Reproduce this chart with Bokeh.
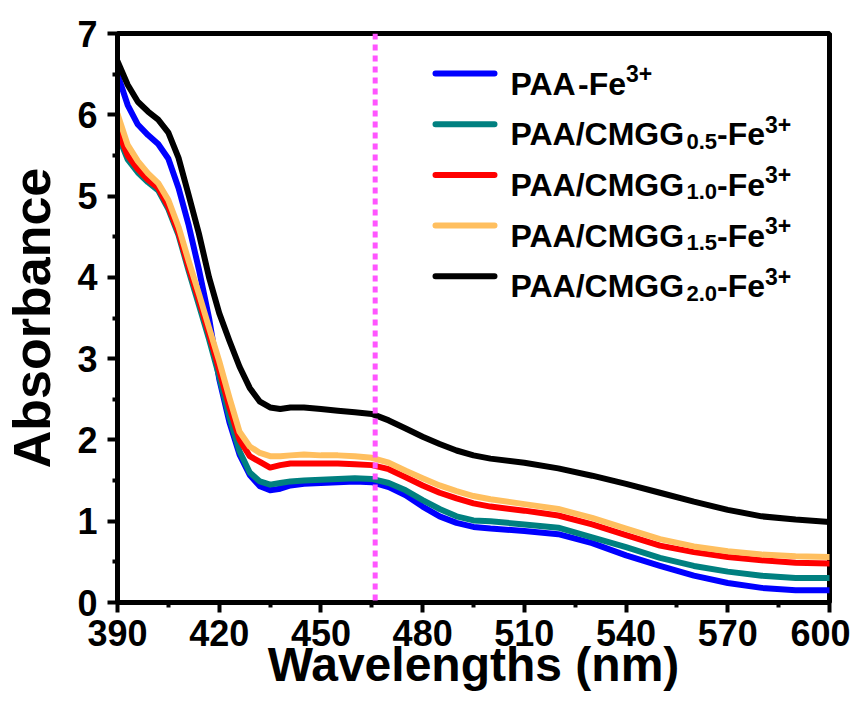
from bokeh.plotting import figure
from bokeh.models import Range1d, FixedTicker, Span, Label, BoxAnnotation
from bokeh.embed import file_html
from bokeh.resources import INLINE

# ---------------- data ----------------
wavelength = [390, 393, 396, 399, 402, 405, 408, 411, 414, 417, 420, 423, 426, 429, 432,
              435, 438, 441, 445, 450, 455, 460, 465, 470, 475, 480, 485, 490, 495, 500,
              510, 520, 530, 540, 550, 560, 570, 580, 590, 600]

paa_fe = [6.50, 6.12, 5.88, 5.75, 5.64, 5.46, 5.10, 4.64, 4.10, 3.50, 2.75, 2.22, 1.82, 1.57, 1.43,
          1.38, 1.40, 1.44, 1.46, 1.47, 1.48, 1.49, 1.48, 1.42, 1.32, 1.18, 1.06, 0.98, 0.93, 0.91,
          0.88, 0.84, 0.73, 0.58, 0.45, 0.33, 0.24, 0.18, 0.15, 0.15]

cmgg_05 = [5.76, 5.45, 5.29, 5.17, 5.07, 4.84, 4.52, 4.08, 3.66, 3.24, 2.78, 2.28, 1.86, 1.60, 1.49,
           1.45, 1.47, 1.49, 1.50, 1.51, 1.52, 1.53, 1.52, 1.47, 1.38, 1.26, 1.15, 1.06, 1.01, 1.00,
           0.96, 0.92, 0.80, 0.68, 0.55, 0.45, 0.38, 0.33, 0.30, 0.30]

cmgg_10 = [5.81, 5.50, 5.33, 5.20, 5.10, 4.87, 4.55, 4.12, 3.72, 3.30, 2.86, 2.40, 2.00, 1.80, 1.73,
           1.66, 1.69, 1.71, 1.71, 1.71, 1.71, 1.70, 1.69, 1.64, 1.54, 1.44, 1.35, 1.28, 1.22, 1.18,
           1.13, 1.07, 0.96, 0.83, 0.70, 0.62, 0.56, 0.52, 0.49, 0.48]

cmgg_15 = [6.01, 5.63, 5.43, 5.28, 5.16, 4.95, 4.62, 4.20, 3.80, 3.38, 2.97, 2.52, 2.10, 1.92, 1.84,
           1.80, 1.80, 1.81, 1.82, 1.81, 1.81, 1.80, 1.78, 1.72, 1.62, 1.53, 1.44, 1.37, 1.31, 1.27,
           1.21, 1.15, 1.04, 0.91, 0.78, 0.69, 0.63, 0.59, 0.57, 0.56]

cmgg_20 = [6.66, 6.37, 6.16, 6.04, 5.94, 5.78, 5.47, 5.01, 4.54, 4.00, 3.56, 3.22, 2.90, 2.64, 2.47,
           2.40, 2.38, 2.40, 2.40, 2.38, 2.36, 2.34, 2.32, 2.24, 2.14, 2.04, 1.95, 1.87, 1.81, 1.77,
           1.72, 1.65, 1.56, 1.46, 1.35, 1.24, 1.14, 1.06, 1.02, 0.99]

marker_wavelength = 466

x_ticks = [390, 420, 450, 480, 510, 540, 570, 600]
y_ticks = [0, 1, 2, 3, 4, 5, 6, 7]

# legend labels: (main, subscript, tail, superscript)
series_labels = [
    ("PAA", "", "-Fe", "3+"),
    ("PAA/CMGG", "0.5", "-Fe", "3+"),
    ("PAA/CMGG", "1.0", "-Fe", "3+"),
    ("PAA/CMGG", "1.5", "-Fe", "3+"),
    ("PAA/CMGG", "2.0", "-Fe", "3+"),
]
series_values = [paa_fe, cmgg_05, cmgg_10, cmgg_15, cmgg_20]
series_colors = ["#0000ff", "#008080", "#ff0000", "#ffbf5f", "#000000"]

# ---------------- figure ----------------
FONT = "Liberation Sans"

p = figure(width=850, height=700, x_range=Range1d(390, 600), y_range=Range1d(0, 7),
           output_backend="svg", toolbar_location=None,
           min_border_left=117, min_border_right=21, min_border_top=33, min_border_bottom=98)
p.grid.visible = False
p.outline_line_color = "black"
p.outline_line_width = 5
p.outline_line_alpha = 1.0
p.background_fill_color = "white"
p.border_fill_color = "white"

for ys, c in zip(series_values, series_colors):
    p.line(wavelength, ys, line_color=c, line_width=6, line_join="round", line_cap="round")

p.add_layout(Span(location=marker_wavelength, dimension="height", line_color="#ff55ff",
                  line_width=5, line_dash="6 5"))

x_minor = [(a + b) / 2 for a, b in zip(x_ticks[:-1], x_ticks[1:])]
y_minor = [(a + b) / 2 for a, b in zip(y_ticks[:-1], y_ticks[1:])]
p.xaxis.ticker = FixedTicker(ticks=x_ticks, minor_ticks=x_minor)
p.yaxis.ticker = FixedTicker(ticks=y_ticks, minor_ticks=y_minor)

for ax in (p.xaxis[0], p.yaxis[0]):
    ax.axis_line_width = 5
    ax.axis_line_color = "black"
    ax.major_tick_line_width = 4
    ax.minor_tick_line_width = 4
    ax.major_tick_out = 10
    ax.major_tick_in = 0
    ax.minor_tick_out = 5
    ax.minor_tick_in = 0
    ax.major_label_text_font = FONT
    ax.major_label_text_font_style = "bold"
    ax.major_label_text_color = "black"
    ax.axis_label_text_font = FONT
    ax.axis_label_text_font_style = "bold"
    ax.axis_label_text_color = "black"

p.xaxis.axis_label = "Wavelengths (nm)"
p.xaxis.major_label_text_font_size = "36px"
p.xaxis.axis_label_text_font_size = "48px"
p.xaxis.major_label_standoff = 7
p.xaxis.axis_label_standoff = -11

p.yaxis.axis_label = "Absorbance"
p.yaxis.major_label_text_font_size = "36px"
p.yaxis.axis_label_text_font_size = "52px"
p.yaxis.major_label_standoff = 10
p.yaxis.axis_label_standoff = 13

# ---------------- legend (hand-built for sub/superscripts) ----------------
CHAR_W = {"P": 667, "A": 722, "-": 333, "F": 611, "e": 556, "/": 278, "C": 722,
          "M": 833, "G": 778, ".": 278, "+": 584}
for d in "0123456789":
    CHAR_W[d] = 556


def text_w(s, size):
    return sum(CHAR_W.get(ch, 556) for ch in s) * size / 1000.0


MAIN = 32
SUB = 22
SUP = 23
frame_h_px = 569
row0 = frame_h_px - 40
row_gap = 50.7
line_left, line_right = 315, 380
text_left = 393

for i, ((main, sub, tail, sup), c) in enumerate(zip(series_labels, series_colors)):
    yc = row0 - i * row_gap
    p.add_layout(BoxAnnotation(left=line_left, right=line_right, bottom=yc - 3, top=yc + 3,
                               left_units="screen", right_units="screen",
                               bottom_units="screen", top_units="screen",
                               fill_color=c, fill_alpha=1.0, line_color=None, border_radius=3))
    base = yc - 10
    x = text_left
    parts = [(main, MAIN, 0), (sub, SUB, -7), (tail, MAIN, 0), (sup, SUP, 10)]
    for txt, size, dy in parts:
        if not txt:
            continue
        p.add_layout(Label(x=x, y=base + dy, x_units="screen", y_units="screen", text=txt,
                           text_font=FONT, text_font_style="bold",
                           text_font_size=f"{size}px", text_color="black",
                           text_baseline="alphabetic", text_align="left"))
        x += text_w(txt, size)

open("out.html", "w").write(file_html(p, INLINE))
